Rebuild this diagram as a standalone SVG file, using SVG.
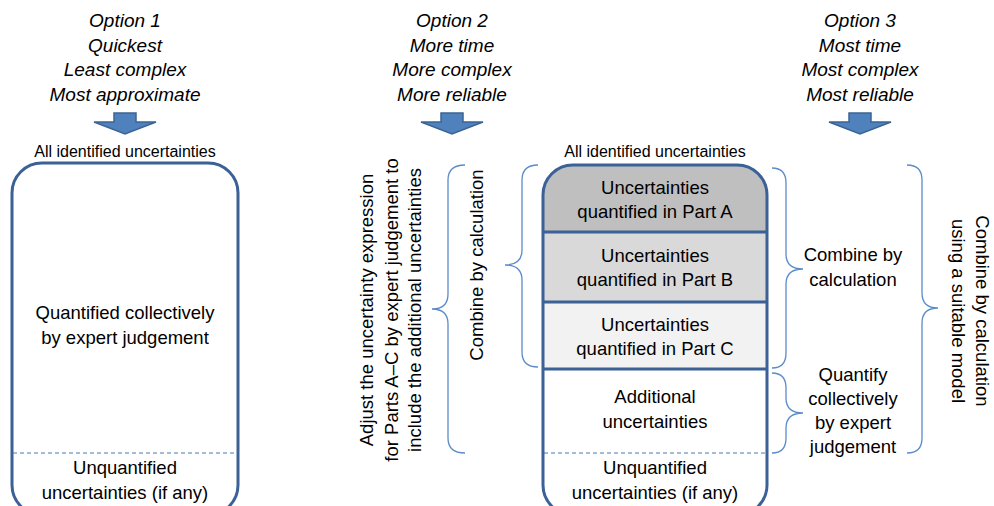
<svg xmlns="http://www.w3.org/2000/svg" width="994" height="506" viewBox="0 0 994 506">
<style>
text{font-family:"Liberation Sans",Arial,sans-serif;fill:#000;text-anchor:middle}
.opt{font-size:19px;font-style:italic}
.lbl{font-size:16px}
.t{font-size:18.5px}
.box{fill:none;stroke:#3b6196;stroke-width:3}
.sep{stroke:#3b6196;stroke-width:3}
.dash{stroke:#4a76ad;stroke-width:1;stroke-dasharray:4,3}
.brace{fill:none;stroke:#5b8bc9;stroke-width:1.3}
.arrow{fill:#4f81bd;stroke:#3c6494;stroke-width:1.5}
</style>
<defs>
<clipPath id="mclip"><rect x="543" y="165" width="224" height="350" rx="30"/></clipPath>
</defs>

<g id="option1">
<text class="opt" x="125" y="27">Option 1</text>
<text class="opt" x="125" y="52">Quickest</text>
<text class="opt" x="125" y="76">Least complex</text>
<text class="opt" x="125" y="101">Most approximate</text>
<polygon class="arrow" points="114,113 136,113 136,122 156,122 125,134 94,122 114,122"/>
</g>
<g id="option2">
<text class="opt" x="452" y="27">Option 2</text>
<text class="opt" x="452" y="52">More time</text>
<text class="opt" x="452" y="76">More complex</text>
<text class="opt" x="452" y="101">More reliable</text>
<polygon class="arrow" points="441,113 463,113 463,122 483,122 452,134 421,122 441,122"/>
</g>
<g id="option3">
<text class="opt" x="860" y="27">Option 3</text>
<text class="opt" x="860" y="52">Most time</text>
<text class="opt" x="860" y="76">Most complex</text>
<text class="opt" x="860" y="101">Most reliable</text>
<polygon class="arrow" points="849,113 871,113 871,122 891,122 860,134 829,122 849,122"/>
</g>

<g id="box1">
<text class="lbl" x="125" y="157">All identified uncertainties</text>
<rect class="box" x="12" y="163" width="226" height="352" rx="30"/>
<line class="dash" x1="13" y1="453" x2="237" y2="453"/>
<text class="t" x="125" y="319">Quantified collectively</text>
<text class="t" x="125" y="344">by expert judgement</text>
<text class="t" x="125" y="474">Unquantified</text>
<text class="t" x="125" y="499">uncertainties (if any)</text>
</g>

<g id="box2">
<text class="lbl" x="655" y="157">All identified uncertainties</text>
<g clip-path="url(#mclip)">
<rect x="543" y="165" width="224" height="67" fill="#bfbfbf"/>
<rect x="543" y="232" width="224" height="70" fill="#d9d9d9"/>
<rect x="543" y="302" width="224" height="67" fill="#f2f2f2"/>
</g>
<line class="sep" x1="543" y1="232" x2="767" y2="232"/>
<line class="sep" x1="543" y1="302" x2="767" y2="302"/>
<line class="sep" x1="543" y1="369" x2="767" y2="369"/>
<line class="dash" x1="544" y1="453" x2="766" y2="453"/>
<rect class="box" x="543" y="165" width="224" height="350" rx="30"/>
<text class="t" x="655" y="194">Uncertainties</text>
<text class="t" x="655" y="218">quantified in Part A</text>
<text class="t" x="655" y="262">Uncertainties</text>
<text class="t" x="655" y="286">quantified in Part B</text>
<text class="t" x="655" y="331">Uncertainties</text>
<text class="t" x="655" y="355">quantified in Part C</text>
<text class="t" x="655" y="403">Additional</text>
<text class="t" x="655" y="428">uncertainties</text>
<text class="t" x="655" y="474">Unquantified</text>
<text class="t" x="655" y="499">uncertainties (if any)</text>
</g>

<g id="connectors">
<path class="brace" d="M538,165 Q522,165 522,180 L522,250 Q522,265 505,265 Q522,265 522,280 L522,352 Q522,367 538,367"/>
<path class="brace" d="M465,165 Q448,165 448,180 L448,294 Q448,309 432,309 Q448,309 448,324 L448,438 Q448,453 465,453"/>
<path class="brace" d="M772,168 Q786,168 786,183 L786,254 Q786,269 803,269 Q786,269 786,284 L786,353 Q786,368 772,368"/>
<path class="brace" d="M772,373 Q786,373 786,388 L786,398 Q786,413 803,413 Q786,413 786,428 L786,438 Q786,453 772,453"/>
<path class="brace" d="M907,165 Q922,165 922,180 L922,293 Q922,308 938,308 Q922,308 922,323 L922,438 Q922,453 907,453"/>
</g>

<g id="label-combine-left">
<text class="t" transform="translate(483,265) rotate(-90)">Combine by calculation</text>
</g>
<g id="label-adjust">
<text class="t" transform="translate(373,310) rotate(-90)">Adjust the uncertainty expression</text>
<text class="t" transform="translate(398,310) rotate(-90)">for Parts A–C by expert judgement to</text>
<text class="t" transform="translate(421,310) rotate(-90)">include the additional uncertainties</text>
</g>
<g id="label-combine-right">
<text class="t" x="853" y="261">Combine by</text>
<text class="t" x="853" y="286">calculation</text>
</g>
<g id="label-quantify">
<text class="t" x="853" y="381">Quantify</text>
<text class="t" x="853" y="405">collectively</text>
<text class="t" x="853" y="429">by expert</text>
<text class="t" x="853" y="453">judgement</text>
</g>
<g id="label-model">
<text class="t" transform="translate(976,311) rotate(90)">Combine by calculation</text>
<text class="t" transform="translate(952,311) rotate(90)">using a suitable model</text>
</g>
</svg>
